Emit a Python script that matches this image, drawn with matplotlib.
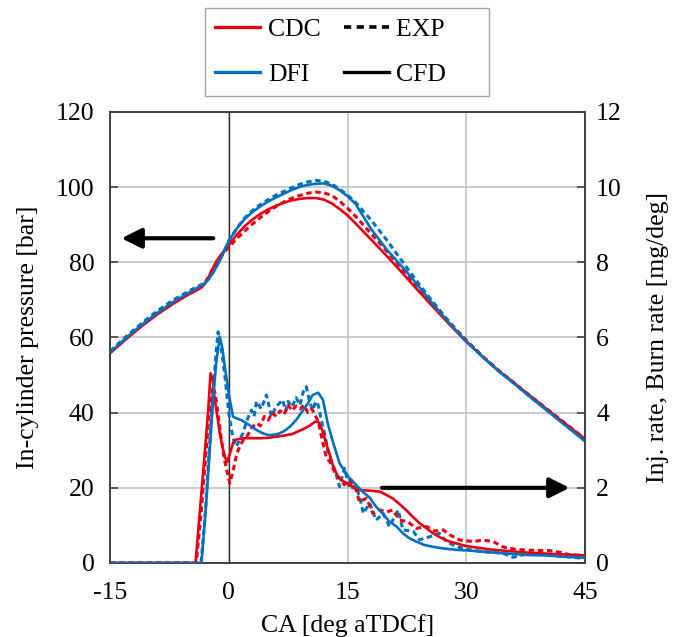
import matplotlib
matplotlib.use('Agg')
import matplotlib.pyplot as plt
from matplotlib.lines import Line2D

plt.rcParams['font.family'] = ['Liberation Serif', 'DejaVu Serif']

RED = '#e60012'
BLUE = '#0070c0'

# --- cylinder pressure [bar] (left axis) ---
ca_p = [-15, -13, -11, -9, -7, -5, -4, -3.5, -3, -2.5, -2, -1.5, -1, -0.5, 0,
        1, 2, 3, 4, 5, 6, 7, 8, 9, 10, 11, 12, 13, 14, 15, 16, 18, 20, 22, 24,
        26, 28, 30, 32, 34, 36, 38, 40, 42, 44, 45]
p_cdc_cfd = [55.8, 59.5, 63.0, 66.2, 69.0, 71.5, 72.6, 73.2, 74.3, 76.2, 78.5, 80.5, 82.0, 83.3, 84.6,
             87.3, 89.6, 91.4, 92.9, 94.1, 95.1, 95.9, 96.5, 96.9, 97.1, 97.1, 96.7, 95.7, 94.2, 92.5, 90.4,
             86.0, 81.6, 77.0, 72.3, 67.7, 63.2, 58.9, 55.0, 51.3, 48.0, 44.6, 41.2, 37.9, 34.6, 33.0]
p_dfi_cfd = [56.0, 59.8, 63.4, 66.6, 69.5, 72.0, 73.2, 73.8, 74.5, 75.6, 77.2, 79.0, 81.0, 83.3, 85.8,
             88.9, 91.5, 93.4, 94.9, 96.2, 97.3, 98.3, 99.3, 100.1, 100.6, 100.9, 101.0, 100.4, 99.2, 97.6, 95.6,
             88.8, 83.3, 78.6, 73.6, 68.4, 63.5, 59.0, 55.0, 51.2, 47.8, 44.3, 40.9, 37.5, 34.1, 32.4]
p_cdc_exp = [56.0, 59.7, 63.2, 66.4, 69.3, 71.8, 72.9, 73.5, 74.6, 76.4, 78.3, 80.0, 81.5, 82.8, 84.0,
             86.3, 88.3, 90.2, 91.9, 93.5, 94.9, 96.1, 97.1, 97.8, 98.4, 98.7, 98.5, 97.8, 96.3, 94.4, 92.3,
             87.6, 82.9, 78.0, 73.1, 68.2, 63.6, 59.2, 55.1, 51.4, 48.0, 44.6, 41.3, 38.0, 34.7, 33.1]
p_dfi_exp = [56.3, 60.2, 63.8, 67.1, 70.0, 72.4, 73.5, 74.0, 74.6, 75.7, 77.3, 79.2, 81.2, 83.4, 85.7,
             89.0, 91.8, 93.8, 95.4, 96.7, 97.9, 98.9, 99.9, 100.8, 101.4, 101.8, 101.6, 100.8, 99.5, 97.9, 96.0,
             91.2, 85.8, 80.0, 74.3, 68.9, 63.8, 59.2, 55.1, 51.3, 47.9, 44.4, 41.0, 37.6, 34.2, 32.5]

# --- injection / burn rate [mg/deg] (right axis) ---
ca_cdc_cfd = [-15, -4.2, -3.5, -3.0, -2.6, -2.3, -2.0, -1.77, -1.4, -1.14, -0.8, -0.5, -0.2, 0.2, 0.55,
              1.0, 2, 3, 4, 5, 6, 7, 8, 9.4, 10.2, 10.9, 11.3, 11.8, 12.3, 12.8, 13.2, 13.8, 14.3, 14.9,
              16.5, 18.0, 19.1, 20.0, 20.7, 21.5, 22.4, 23.2, 24.1, 25.0, 25.8, 26.8, 27.9, 30.0, 33.0,
              38.0, 40.0, 42.0, 45.0]
br_cdc_cfd = [0, 0, 1.75, 3.0, 4.05, 5.05, 4.85, 4.34, 3.85, 3.45, 3.1, 2.83, 2.68, 2.95, 3.2,
              3.29, 3.32, 3.32, 3.32, 3.33, 3.36, 3.39, 3.43, 3.56, 3.65, 3.76, 3.76, 3.55, 3.19, 2.85, 2.56, 2.3, 2.2, 2.12,
              1.94, 1.92, 1.9, 1.8, 1.72, 1.58, 1.41, 1.24, 1.06, 0.92, 0.79, 0.67, 0.57, 0.45, 0.36,
              0.27, 0.25, 0.23, 0.2]
ca_dfi_cfd = [-15, -3.45, -2.82, -2.4, -1.98, -1.6, -1.14, -0.8, -0.5, -0.2, 0.13, 0.55, 0.97, 1.6,
              2.23, 3.5, 4.2, 5.0, 6.0, 6.86, 7.7, 8.5, 9.4, 10.0, 10.6, 11.3, 11.9, 12.5, 13.2, 14.0,
              15.1, 16.3, 17.0, 17.8, 18.6, 19.5, 20.3, 21.2, 22.0, 22.8, 23.7, 24.7, 25.8, 27.0, 28.7,
              30.4, 32.1, 35.9, 38.0, 40.0, 42.0, 45.0]
br_dfi_cfd = [0, 0, 1.68, 3.0, 4.34, 5.3, 6.02, 5.7, 5.22, 4.8, 4.34, 3.89, 3.85, 3.8,
              3.72, 3.54, 3.46, 3.4, 3.42, 3.49, 3.62, 3.8, 4.07, 4.25, 4.47, 4.53, 4.34, 3.72, 3.19, 2.65,
              2.3, 2.03, 1.88, 1.74, 1.5, 1.3, 1.1, 0.97, 0.79, 0.66, 0.57, 0.48, 0.43, 0.39, 0.35,
              0.33, 0.3, 0.24, 0.21, 0.2, 0.17, 0.14]
ca_cdc_exp = [-15, -4.1, -3.5, -3.0, -2.5, -2.0, -1.7, -1.2, -0.6, 0.13, 0.6, 1.0, 1.39, 1.9, 2.4,
              2.9, 3.5, 4.0, 4.5, 5.0, 5.5, 6.0, 6.5, 7.0, 7.5, 8.0, 8.5, 9.0, 9.5, 10.0, 10.5, 11.0,
              11.3, 11.9, 12.3, 12.9, 13.4, 13.8, 14.6, 15.3, 16.1, 16.5, 17.4, 18.2, 19.1, 20.0, 20.7,
              21.6, 22.6, 23.7, 25.0, 26.0, 27.1, 27.9, 29.2, 30.9, 32.1, 33.4, 34.6, 36.3, 38.0, 40.5,
              42.0, 43.0, 45.0]
br_cdc_exp = [0, 0, 1.3, 2.6, 3.9, 4.7, 4.5, 3.7, 2.8, 2.12, 2.5, 2.9, 3.1, 3.3, 3.4,
              3.6, 3.72, 3.65, 3.9, 3.8, 4.0, 3.9, 4.05, 3.95, 4.2, 4.05, 4.18, 4.1, 4.2, 4.0, 4.1, 3.9,
              3.76, 3.19, 2.83, 2.65, 2.4, 2.3, 2.08, 2.2, 1.94, 1.63, 1.72, 1.32, 1.41, 1.36, 1.41,
              1.14, 1.1, 0.92, 0.97, 0.85, 0.88, 0.75, 0.61, 0.57, 0.61, 0.57, 0.43, 0.36, 0.34, 0.33,
              0.28, 0.22, 0.2]
ca_dfi_exp = [-15, -3.5, -3.0, -2.5, -2.0, -1.6, -1.35, -1.0, -0.5, 0.0, 0.34, 0.7, 0.97, 1.4, 1.8,
              2.3, 2.86, 3.2, 3.5, 4.1, 4.76, 5.4, 6.0, 6.4, 6.8, 7.2, 7.5, 8.0, 8.5, 9.0, 9.4, 9.8,
              10.2, 10.6, 11.0, 11.3, 11.7, 12.1, 12.5, 13.0, 13.4, 14.0, 14.6, 15.3, 16.1, 16.6, 17.0,
              17.8, 18.6, 19.5, 20.3, 21.4, 22.0, 23.3, 24.1, 25.4, 26.6, 27.5, 28.7, 30.4, 32.1, 34.6,
              35.9, 38.0, 40.0, 42.0, 45.0]
br_dfi_exp = [0, 0, 1.2, 2.9, 4.5, 5.6, 6.15, 5.8, 5.0, 4.0, 3.54, 3.2, 3.1, 3.3, 3.45,
              3.8, 4.07, 3.9, 4.3, 4.1, 4.47, 3.9, 4.17, 4.25, 4.34, 4.05, 4.3, 4.15, 4.4, 4.2, 4.55, 4.69,
              4.3, 4.07, 4.3, 4.2, 3.8, 3.45, 3.0, 2.7, 2.48, 2.03, 2.52, 1.97, 2.05, 1.7, 1.32,
              1.59, 1.14, 1.32, 0.97, 1.41, 0.88, 0.84, 0.62, 0.7, 0.79, 0.57, 0.44, 0.35, 0.3, 0.26,
              0.15, 0.26, 0.22, 0.18, 0.12]

x_ticks = [-15, 0, 15, 30, 45]

FS = 18.5

fig = plt.figure(figsize=(6.85, 6.37), dpi=100)
ax = fig.add_axes([0.1606, 0.1162, 0.6934, 0.708])
ax2 = ax.twinx()

dash = (0, (1.8, 1.2))
lw = 1.9
dlw = 2.2

ax.plot(ca_p, p_dfi_exp, color=BLUE, lw=dlw, ls=dash, zorder=3)
ax.plot(ca_p, p_cdc_exp, color=RED, lw=dlw, ls=dash, zorder=3)
ax.plot(ca_p, p_cdc_cfd, color=RED, lw=lw, zorder=4)
ax.plot(ca_p, p_dfi_cfd, color=BLUE, lw=lw, zorder=4)

ax2.plot(ca_dfi_exp, br_dfi_exp, color=BLUE, lw=dlw, ls=dash, zorder=3)
ax2.plot(ca_cdc_exp, br_cdc_exp, color=RED, lw=dlw, ls=dash, zorder=3)
ax2.plot(ca_cdc_cfd, br_cdc_cfd, color=RED, lw=lw, zorder=4)
ax2.plot(ca_dfi_cfd, br_dfi_cfd, color=BLUE, lw=lw, zorder=4)

ax.set_xlim(-15, 45)
ax.set_ylim(0, 120)
ax2.set_ylim(0, 12)
ax.set_xticks(x_ticks)
ax.set_xticklabels(['-15', '0', '15', '30', '45'])
ax.set_yticks(range(0, 121, 20))
ax2.set_yticks(range(0, 13, 2))

for a in (ax, ax2):
    for s in a.spines.values():
        s.set_color('#404040')
        s.set_linewidth(1.2)
ax.grid(True, color='#c4c4c4', lw=1.2)
ax.set_axisbelow(True)
ax.axvline(0, color='#303030', lw=1.0, zorder=2)

ax.tick_params(axis='y', direction='in', length=6, width=1.2, color='#404040', labelsize=FS, pad=11)
ax.tick_params(axis='x', direction='in', length=0, labelsize=FS, pad=14)
ax2.tick_params(axis='y', direction='in', length=6, width=1.2, color='#404040', labelsize=FS, pad=8)

ax.set_xlabel('CA [deg aTDCf]', fontsize=FS, labelpad=7)
ax.set_ylabel('In-cylinder pressure [bar]', fontsize=FS, labelpad=12)
ax2.set_ylabel('Inj. rate, Burn rate [mg/deg]', fontsize=FS, labelpad=18)

# arrows pointing at the relevant axis
ax.annotate('', xy=(-13.9, 86.4), xytext=(-1.6, 86.4),
            arrowprops=dict(arrowstyle='-|>', color='black', lw=3, mutation_scale=30))
ax2.annotate('', xy=(43.4, 2.0), xytext=(19.0, 2.0),
             arrowprops=dict(arrowstyle='-|>', color='black', lw=3, mutation_scale=30))

handles = [Line2D([], [], color=RED, lw=2.4),
           Line2D([], [], color=BLUE, lw=2.4),
           Line2D([], [], color='black', lw=2.6, ls=(0, (2.0, 1.5))),
           Line2D([], [], color='black', lw=2.4)]
labels = ['CDC', 'DFI', 'EXP     ', 'CFD     ']
leg = fig.legend(handles, labels, loc='upper left', bbox_to_anchor=(205 / 685, 0.9875),
                 borderaxespad=0, ncol=2, fontsize=FS, frameon=True, fancybox=False,
                 handlelength=1.75, handletextpad=0.3, columnspacing=0.9,
                 labelspacing=0.85, borderpad=0.4)
leg.get_frame().set_edgecolor('#8090a0')
leg.get_frame().set_linewidth(1.0)

fig.savefig('out.png', dpi=100)
